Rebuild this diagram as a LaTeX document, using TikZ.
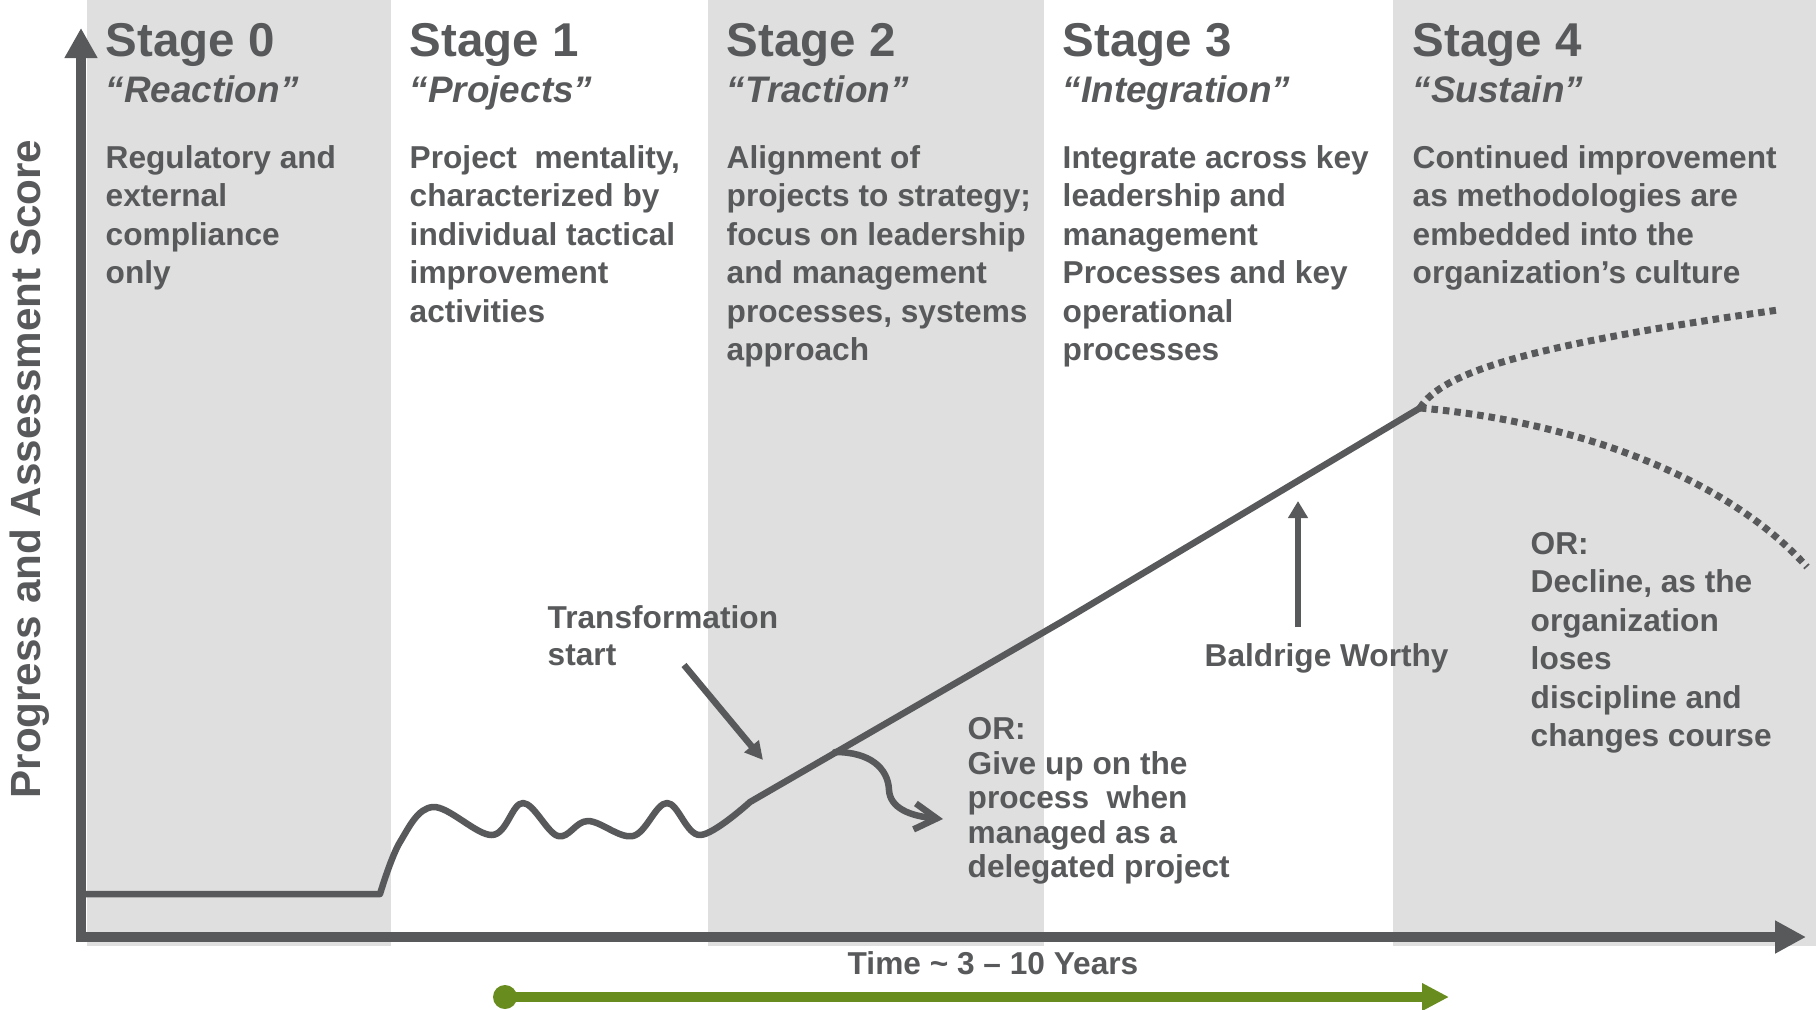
\documentclass[tikz,border=0pt]{standalone}
\usepackage{fontspec}
\setmainfont{Liberation Sans}
\usetikzlibrary{arrows.meta}
\definecolor{inkgray}{RGB}{88,89,91}
\definecolor{bandgray}{RGB}{223,223,223}
\definecolor{leafgreen}{RGB}{104,140,30}
\begin{document}
\begin{tikzpicture}[x=0.01cm, y=-0.01cm,
   stagetitle/.style={anchor=base west, inner sep=0, text=inkgray,
     font=\bfseries\fontsize{13.5}{16}\selectfont},
   stagesub/.style={anchor=base west, inner sep=0, text=inkgray,
     font=\bfseries\itshape\fontsize{10.5}{12}\selectfont},
   blurb/.style={anchor=base west, inner sep=0, text=inkgray, align=left,
     font=\bfseries\fontsize{9}{10.95}\selectfont},
   trend/.style={draw=inkgray, line width=0.065cm, line join=round},
   fork/.style={draw=inkgray, line width=0.07cm, dash pattern=on 0.065cm off 0.05cm},
   pointer/.style={draw=inkgray, line width=0.065cm}]
    \useasboundingbox (0,0) rectangle (1816,1009);
    % stage bands
    \fill[bandgray] (87,0) rectangle (391,946);
    \fill[bandgray] (708,0) rectangle (1044,946);
    \fill[bandgray] (1393,0) rectangle (1816,946);
    % stage headings
    \path (105,57) node[stagetitle] (s0) {Stage 0};
    \path (409,57) node[stagetitle] (s1) {Stage 1};
    \path (726,57) node[stagetitle] (s2) {Stage 2};
    \path (1062,57) node[stagetitle] (s3) {Stage 3};
    \path (1412,57) node[stagetitle] (s4) {Stage 4};
    \path (105,102) node[stagesub] (s0sub) {“Reaction”};
    \path (409,102) node[stagesub] (s1sub) {“Projects”};
    \path (726,102) node[stagesub] (s2sub) {“Traction”};
    \path (1062,102) node[stagesub] (s3sub) {“Integration”};
    \path (1412,102) node[stagesub] (s4sub) {“Sustain”};
    % blurbs sit on the baseline of their last line
    \path (105,283.6) node[blurb] (s0txt) {Regulatory and\\external\\compliance\\only};
    \path (409,322.1) node[blurb] (s1txt) {Project~ mentality,\\characterized by\\individual tactical\\improvement\\activities};
    \path (726,360.6) node[blurb] (s2txt) {Alignment of\\projects to strategy;\\focus on leadership\\and management\\processes, systems\\approach};
    \path (1062,360.6) node[blurb] (s3txt) {Integrate across key\\leadership and\\management\\Processes and key\\operational\\processes};
    \path (1412,283.6) node[blurb] (s4txt) {Continued improvement\\as methodologies are\\embedded into the\\organization’s culture};
    % progress curve
    \coordinate (peak) at (1420,408);
    \draw[trend] (81,894) -- (380,894) -- plot[smooth, tension=0.6] coordinates {(380,894) (400,842)
      (433,807) (492,835) (523,803) (558,836) (588,821) (633,836) (667,803) (700,835) (750,802)}
      -- (1063,621) -- (peak);
    \draw[fork] (peak) .. controls (1442,372) and (1530,345) .. (1778,310);
    \draw[fork] (peak) .. controls (1560,420) and (1720,470) .. (1807,567);
    % axes
    \coordinate (origin) at (81,937);
    \coordinate (ytip) at (81,28);
    \coordinate (xtip) at (1806,937);
    \draw[draw=inkgray, line width=0.1cm,
      {Triangle[length=0.3cm,width=0.31cm]}-{Triangle[length=0.31cm,width=0.31cm]}]
      (ytip) -- (origin) -- (xtip);
    \path (41,469) node[rotate=90, anchor=base, inner sep=0, text=inkgray,
      font=\bfseries\fontsize{12}{14}\selectfont] (ylbl) {Progress and Assessment Score};
    \path (847,974) node[blurb] (timelbl) {Time \textasciitilde{} 3 – 10 Years};
    % time span
    \coordinate (spanA) at (505,997);
    \coordinate (spanB) at (1449,997);
    \fill[leafgreen] (spanA) circle[radius=0.12cm];
    \draw[leafgreen, line width=0.1cm, -{Triangle[length=0.27cm,width=0.26cm]}] (spanA) -- (spanB);
    % callouts
    \path (547,665.9) node[blurb, font=\bfseries\fontsize{9}{10.5}\selectfont] (tslbl) {Transformation\\start};
    \coordinate (tstail) at (684,665);
    \coordinate (tstip) at (763,760);
    \draw[pointer, -{Triangle[length=0.18cm,width=0.18cm]}] (tstail) -- (tstip);
    \path (1204,666) node[blurb] (bwlbl) {Baldrige Worthy};
    \coordinate (bwtail) at (1298,627);
    \coordinate (bwtip) at (1298,501);
    \draw[pointer, -{Triangle[length=0.17cm,width=0.19cm]}] (bwtail) -- (bwtip);
    \path (967,877.7) node[blurb, font=\bfseries\fontsize{9}{9.8}\selectfont] (giveup)
      {OR:\\Give up on the\\process~ when\\managed as a\\delegated project};
    \coordinate (quit) at (835,752);
    \coordinate (quittip) at (943,819);
    \draw[pointer, line cap=round, -{Straight Barb[length=0.22cm,width=0.26cm]}]
      (quit) .. controls (870,752) and (888,768) .. (889,790)
      .. controls (890,808) and (910,816) .. (quittip);
    \path (1530,746.6) node[blurb] (decline)
      {OR:\\Decline, as the\\organization\\loses\\discipline and\\changes course};
\end{tikzpicture}
\end{document}
